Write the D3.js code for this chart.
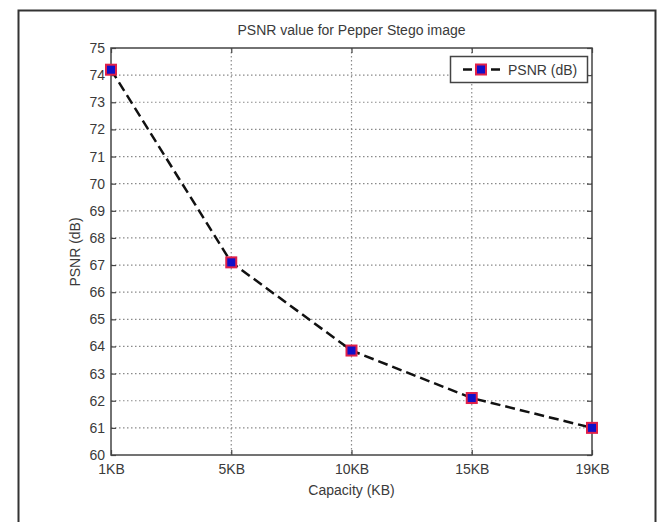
<!DOCTYPE html>
<html>
<head>
<meta charset="utf-8">
<script src="https://cdn.jsdelivr.net/npm/d3@7"></script>
<style>
  body { margin: 0; background: #fff; }
  text { font-family: "Liberation Sans", Arial, sans-serif; fill: #3a3a3a; }
</style>
</head>
<body>
<svg id="chart" width="665" height="522"></svg>
<script>
"use strict";

// values
const categories = ["1KB", "5KB", "10KB", "15KB", "19KB"];
const psnr = [74.2, 67.1, 63.85, 62.1, 61.0];
const yTicks = [60, 61, 62, 63, 64, 65, 66, 67, 68, 69, 70, 71, 72, 73, 74, 75];
const title = "PSNR value for Pepper Stego image";
const xLabel = "Capacity (KB)";
const yLabel = "PSNR (dB)";
const seriesName = "PSNR (dB)";

const CHART = (function() {
  var _svg = d3.select('#chart');
  var _left = 111, _right = 592, _top = 48, _bottom = 455;

  var x = d3.scalePoint().domain(categories).range([_left, _right]);
  var y = d3.scaleLinear().domain([60, 75]).range([_bottom, _top]);

  // outer frame of the figure
  _svg.append('rect')
    .attr('x', 18.5).attr('y', 10.5)
    .attr('width', 637).attr('height', 530)
    .attr('fill', '#fff').attr('stroke', '#333').attr('stroke-width', 2);

  // dotted grid
  var grid = _svg.append('g').attr('stroke', '#8a8a8a')
    .attr('stroke-width', 1.2).attr('stroke-dasharray', '1.5,2.5');
  grid.selectAll('.gy').data(yTicks.slice(1, -1)).enter().append('line')
    .attr('x1', _left).attr('x2', _right)
    .attr('y1', function(d) { return y(d); })
    .attr('y2', function(d) { return y(d); });
  grid.selectAll('.gx').data(categories.slice(1, -1)).enter().append('line')
    .attr('y1', _top).attr('y2', _bottom)
    .attr('x1', function(d) { return x(d); })
    .attr('x2', function(d) { return x(d); });

  function styleAxis(g) {
    g.select('.domain').remove();
    g.selectAll('.tick line').attr('stroke', '#444').attr('stroke-width', 1.2);
    g.selectAll('.tick text')
      .attr('font-size', 14).attr('fill', '#3a3a3a')
      .style('font-family', '"Liberation Sans", Arial, sans-serif');
  }

  _svg.append('g').attr('transform', 'translate(0,' + _bottom + ')')
    .call(d3.axisBottom(x).tickSizeInner(-5).tickSizeOuter(0).tickPadding(9))
    .call(styleAxis);
  _svg.append('g').attr('transform', 'translate(' + _left + ',0)')
    .call(d3.axisLeft(y).tickValues(yTicks).tickFormat(d3.format('d'))
      .tickSizeInner(-5).tickSizeOuter(0).tickPadding(6))
    .call(styleAxis);
  _svg.append('g').attr('transform', 'translate(0,' + _top + ')')
    .call(d3.axisTop(x).tickSizeInner(-5).tickSizeOuter(0).tickFormat(''))
    .call(styleAxis);
  _svg.append('g').attr('transform', 'translate(' + _right + ',0)')
    .call(d3.axisRight(y).tickValues(yTicks).tickSizeInner(-5).tickSizeOuter(0).tickFormat(''))
    .call(styleAxis);

  // axes box
  _svg.append('rect')
    .attr('x', _left).attr('y', _top)
    .attr('width', _right - _left).attr('height', _bottom - _top)
    .attr('fill', 'none').attr('stroke', '#444').attr('stroke-width', 1.5);

  // series
  var line = d3.line()
    .x(function(d, i) { return x(categories[i]); })
    .y(function(d) { return y(d); });
  _svg.append('path').datum(psnr)
    .attr('d', line)
    .attr('fill', 'none').attr('stroke', '#111')
    .attr('stroke-width', 2.5).attr('stroke-dasharray', '10,5');

  function marker(g, cx, cy) {
    g.append('rect')
      .attr('x', cx - 5).attr('y', cy - 5)
      .attr('width', 10).attr('height', 10)
      .attr('fill', '#1010c8').attr('stroke', '#e0204a').attr('stroke-width', 2);
  }
  var marks = _svg.append('g');
  psnr.forEach(function(d, i) { marker(marks, x(categories[i]), y(d)); });

  // legend
  var lg = _svg.append('g');
  lg.append('rect')
    .attr('x', 450.5).attr('y', 56.5).attr('width', 137).attr('height', 26)
    .attr('fill', '#fff').attr('stroke', '#444').attr('stroke-width', 1.5);
  lg.append('line')
    .attr('x1', 463).attr('x2', 502).attr('y1', 69.5).attr('y2', 69.5)
    .attr('stroke', '#111').attr('stroke-width', 2.5).attr('stroke-dasharray', '9,5');
  marker(lg, 481, 69.5);
  lg.append('text')
    .attr('x', 508).attr('y', 74.5)
    .attr('font-size', 14).text(seriesName);

  // titles
  _svg.append('text')
    .attr('x', (_left + _right) / 2).attr('y', 35)
    .attr('text-anchor', 'middle').attr('font-size', 14).text(title);
  _svg.append('text')
    .attr('x', (_left + _right) / 2).attr('y', 495)
    .attr('text-anchor', 'middle').attr('font-size', 14).text(xLabel);
  _svg.append('text')
    .attr('transform', 'translate(80,252) rotate(-90)')
    .attr('text-anchor', 'middle').attr('font-size', 14).text(yLabel);

  return { x: x, y: y };
}());
</script>
</body>
</html>
